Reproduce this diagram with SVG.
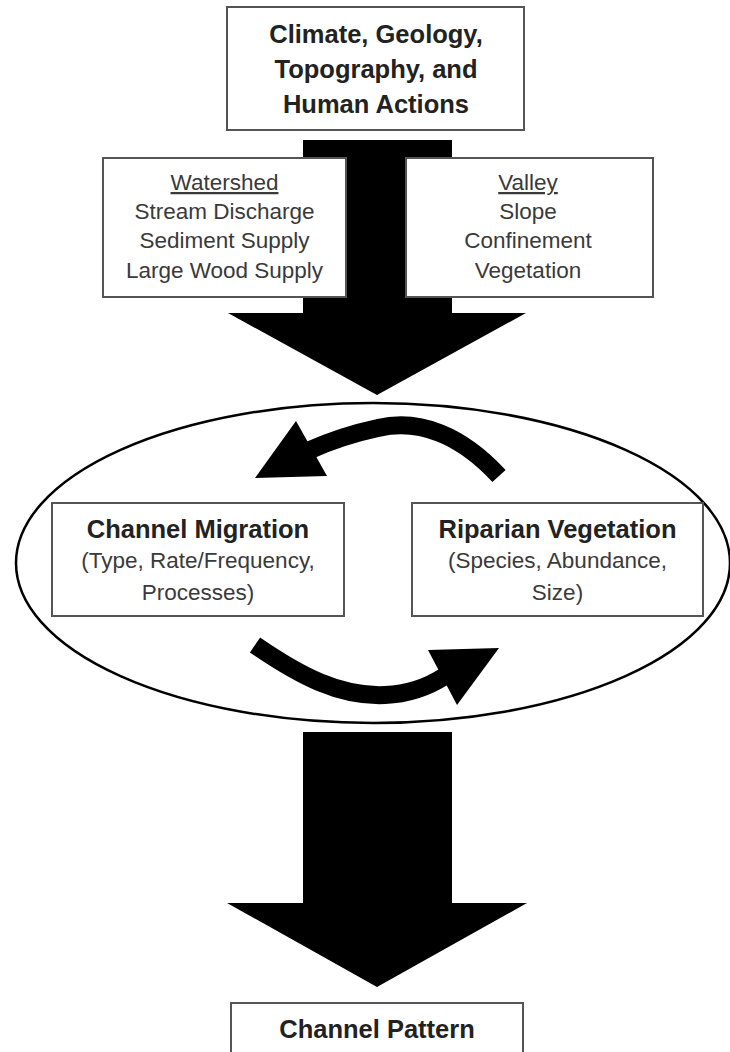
<svg xmlns="http://www.w3.org/2000/svg" width="730" height="1052" viewBox="0 0 730 1052">
<style>
.box{fill:#fff;stroke:#555;stroke-width:2}
.t{font-family:"Liberation Sans",Arial,sans-serif;text-anchor:middle}
.b{font-weight:bold;font-size:25.5px;fill:#222}
.r{font-size:22.5px;fill:#3a3a3a}
.u{text-decoration:underline}
.blk{fill:#000}
.shaft{fill:none;stroke:#000;stroke-width:18}
</style>
<rect width="730" height="1052" fill="#fff"/>
<g id="connectors">
  <polygon class="blk" points="303,140 452,140 452,313 526,313 377,395 228,313 303,313"/>
  <polygon class="blk" points="303,732 452,732 452,903 527,903 377,987 227,903 303,903"/>
</g>
<g id="watershed">
  <rect class="box" x="103" y="158" width="243" height="139"/>
  <text class="t r u" x="224.5" y="190">Watershed</text>
  <text class="t r" x="224.5" y="219">Stream Discharge</text>
  <text class="t r" x="224.5" y="248">Sediment Supply</text>
  <text class="t r" x="224.5" y="278">Large Wood Supply</text>
</g>
<g id="valley">
  <rect class="box" x="406" y="158" width="247" height="139"/>
  <text class="t r u" x="528" y="190">Valley</text>
  <text class="t r" x="528" y="219">Slope</text>
  <text class="t r" x="528" y="248">Confinement</text>
  <text class="t r" x="528" y="278">Vegetation</text>
</g>
<g id="drivers">
  <rect class="box" x="227" y="7" width="297" height="123"/>
  <text class="t b" x="376" y="43">Climate, Geology,</text>
  <text class="t b" x="376" y="78">Topography, and</text>
  <text class="t b" x="376" y="113">Human Actions</text>
</g>
<g id="feedback-loop">
  <ellipse cx="373" cy="563" rx="357" ry="160" fill="none" stroke="#000" stroke-width="2.5"/>
</g>
<g id="loop-arrows">
  <path class="shaft" d="M499,476 C462,436 420,418 378,428 C350,434 328,442 310,450"/>
  <polygon class="blk" points="296,421 327,476 255,478"/>
  <path class="shaft" d="M255,645 C300,676 340,697 385,695 C410,694 428,687 445,676"/>
  <polygon class="blk" points="428,650 499,648 457,705"/>
</g>
<g id="channel-migration">
  <rect class="box" x="52" y="503" width="292" height="113"/>
  <text class="t b" x="198" y="538">Channel Migration</text>
  <text class="t r" x="198" y="568">(Type, Rate/Frequency,</text>
  <text class="t r" x="198" y="600">Processes)</text>
</g>
<g id="riparian-vegetation">
  <rect class="box" x="412" y="503" width="291" height="113"/>
  <text class="t b" x="557.5" y="538">Riparian Vegetation</text>
  <text class="t r" x="557.5" y="568">(Species, Abundance,</text>
  <text class="t r" x="557.5" y="600">Size)</text>
</g>
<g id="channel-pattern">
  <rect class="box" x="231" y="1003" width="292" height="60"/>
  <text class="t b" x="377" y="1038">Channel Pattern</text>
</g>
</svg>
